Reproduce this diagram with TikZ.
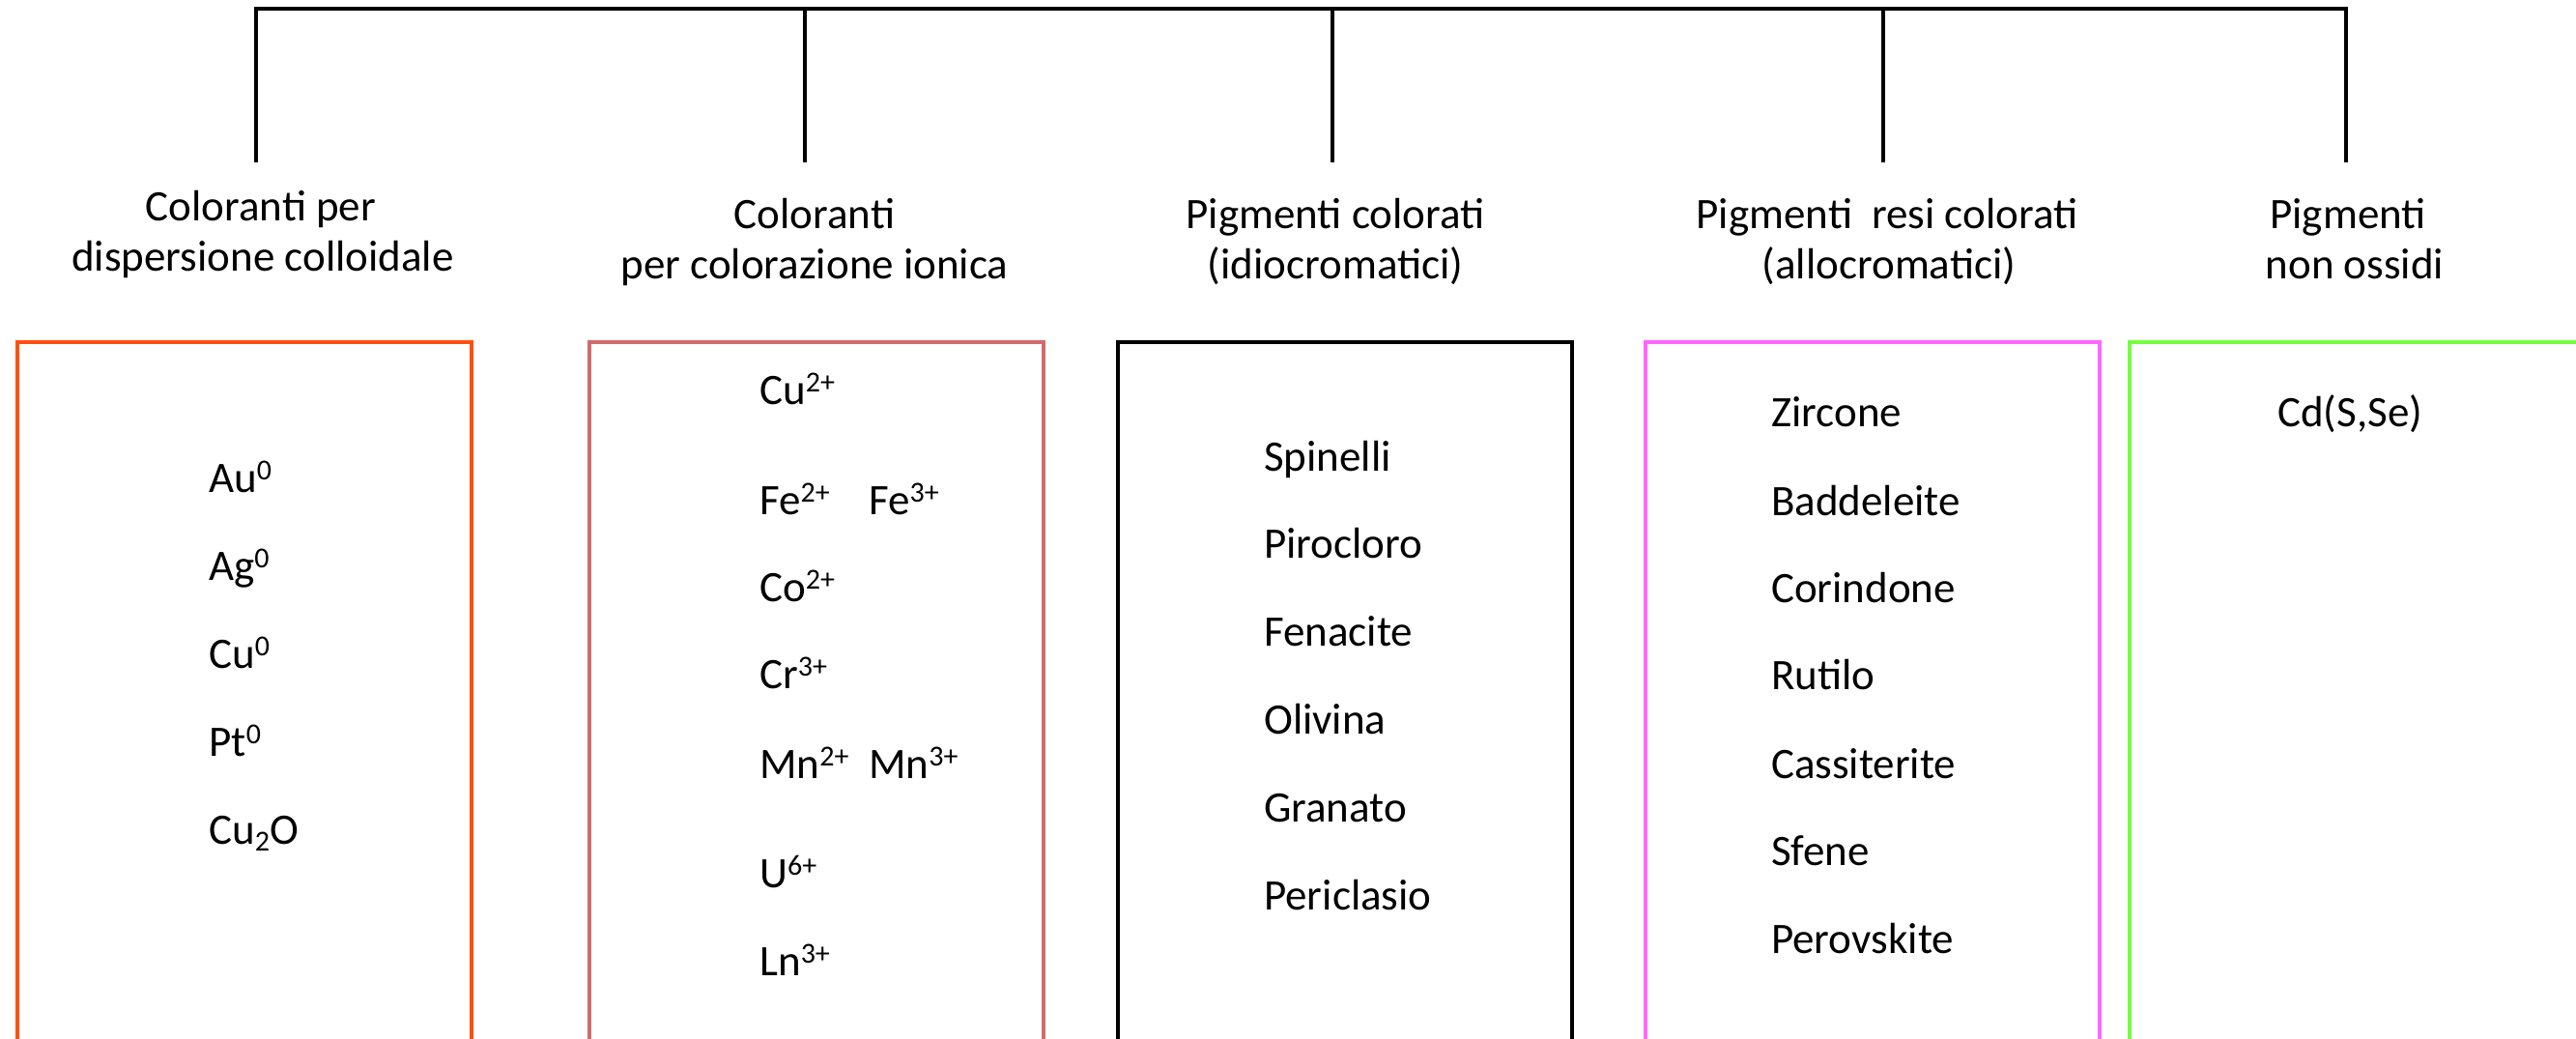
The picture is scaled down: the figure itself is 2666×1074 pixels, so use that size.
\documentclass[tikz,border=0pt]{standalone}
\usepackage{fontspec}
\setmainfont{Carlito}
\definecolor{boxorange}{RGB}{255,80,16}
\definecolor{boxred}{RGB}{212,106,106}
\definecolor{boxmagenta}{RGB}{255,102,255}
\definecolor{boxgreen}{RGB}{115,255,64}
\newcommand\upsc[1]{\raisebox{13pt}{\fontsize{30}{30}\selectfont #1}}
\newcommand\dnsc[1]{\raisebox{-7pt}{\fontsize{30}{30}\selectfont #1}}
\begin{document}
\begin{tikzpicture}[x=1pt,y=-1pt,
  conn/.style={line width=3.3pt,black},
  colbox/.style={draw,rectangle,line width=3.6pt,inner sep=0pt,outer sep=0pt,
    minimum width=470pt,minimum height=760pt,anchor=north west},
  hdr/.style={font=\fontsize{45}{52}\selectfont,inner sep=0pt,anchor=base},
  item/.style={font=\fontsize{45}{54}\selectfont,inner sep=0pt,anchor=base west}]
\useasboundingbox (0,0) rectangle (2666,1074);
\clip (0,0) rectangle (2666,1074);
\fill[white] (0,0) rectangle (2666,1074);

% tree connectors
\coordinate (t1) at (265,9);
\coordinate (t2) at (833,9);
\coordinate (t3) at (1379,9);
\coordinate (t4) at (1949,9);
\coordinate (t5) at (2428,9);
\coordinate (e1) at (265,168);
\coordinate (e2) at (833,168);
\coordinate (e3) at (1379,168);
\coordinate (e4) at (1949,168);
\coordinate (e5) at (2428,168);
\draw[conn,line cap=rect] (t1) -- (t5);
\draw[conn] (t1) -- (e1);
\draw[conn] (t2) -- (e2);
\draw[conn] (t3) -- (e3);
\draw[conn] (t4) -- (e4);
\draw[conn] (t5) -- (e5);

% headers
\node[hdr] (h1a) at (270,228) {Coloranti per};
\node[hdr] (h1b) at (272,280) {dispersione colloidale};
\node[hdr] (h2a) at (843,236) {Coloranti};
\node[hdr] (h2b) at (843,288) {per colorazione ionica};
\node[hdr] (h3a) at (1382,236) {Pigmenti colorati};
\node[hdr] (h3b) at (1382,288) {(idiocromatici)};
\node[hdr] (h4a) at (1953,236) {Pigmenti\ \ resi colorati};
\node[hdr] (h4b) at (1955,288) {(allocromatici)};
\node[hdr] (h5a) at (2430,236) {Pigmenti};
\node[hdr] (h5b) at (2437,288) {non ossidi};

% boxes
\node[colbox,draw=boxorange] (b1) at (18,354) {};
\node[colbox,draw=boxred] (b2) at (610,354) {};
\node[colbox,draw=black] (b3) at (1157,354) {};
\node[colbox,draw=boxmagenta] (b4) at (1703,354) {};
\node[colbox,draw=boxgreen,minimum width=520pt] (b5) at (2204,354) {};

% box 1
\node[item] (i11) at (216,509) {Au\upsc{0}};
\node[item] (i12) at (216,600) {Ag\upsc{0}};
\node[item] (i13) at (216,691) {Cu\upsc{0}};
\node[item] (i14) at (216,782) {Pt\upsc{0}};
\node[item] (i15) at (216,873) {Cu\dnsc{2}O};

% box 2
\node[item] (i21) at (786,418) {Cu\upsc{2+}};
\node[item] (i22) at (786,532) {Fe\upsc{2+}};
\node[item] (i22b) at (899,532) {Fe\upsc{3+}};
\node[item] (i23) at (786,622) {Co\upsc{2+}};
\node[item] (i24) at (786,712) {Cr\upsc{3+}};
\node[item] (i25) at (786,805) {Mn\upsc{2+}};
\node[item] (i25b) at (899,805) {Mn\upsc{3+}};
\node[item] (i26) at (786,918) {U\upsc{6+}};
\node[item] (i27) at (786,1009) {Ln\upsc{3+}};

% box 3
\node[item] (i31) at (1308,487) {Spinelli};
\node[item] (i32) at (1308,577) {Pirocloro};
\node[item] (i33) at (1308,668) {Fenacite};
\node[item] (i34) at (1308,759) {Olivina};
\node[item] (i35) at (1308,850) {Granato};
\node[item] (i36) at (1308,941) {Periclasio};

% box 4
\node[item] (i41) at (1833,441) {Zircone};
\node[item] (i42) at (1833,533) {Baddeleite};
\node[item] (i43) at (1833,623) {Corindone};
\node[item] (i44) at (1833,713) {Rutilo};
\node[item] (i45) at (1833,805) {Cassiterite};
\node[item] (i46) at (1833,895) {Sfene};
\node[item] (i47) at (1833,986) {Perovskite};

% box 5
\node[item] (i51) at (2357,441) {Cd(S,Se)};
\end{tikzpicture}
\end{document}
